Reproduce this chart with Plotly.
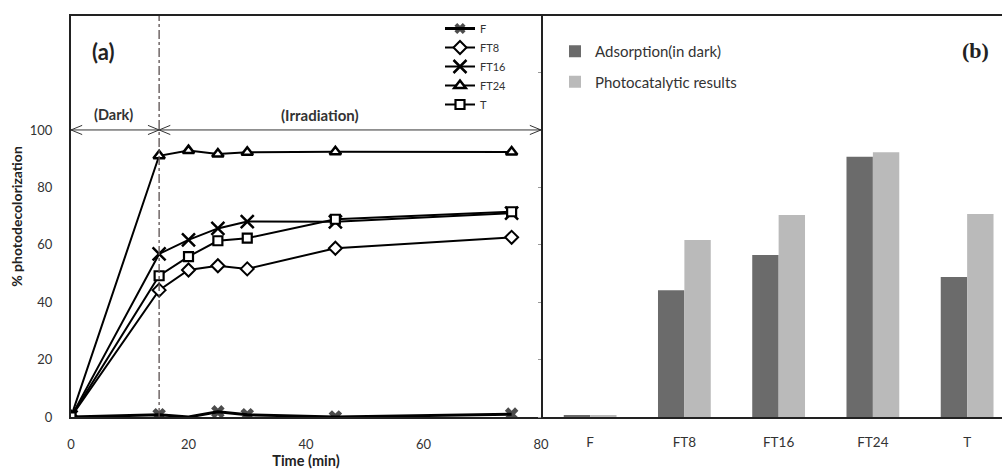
import plotly.graph_objects as go

# ---------------- data ----------------
time_min = [0, 15, 20, 25, 30, 45, 75]
F = [0, 0.8, 0.0, 1.8, 0.8, 0.0, 1.0]
FT8 = [0, 44.2, 51.2, 52.7, 51.6, 58.8, 62.6]
FT16 = [0, 56.8, 61.7, 65.7, 68.1, 68.0, 71.0]
FT24 = [0, 91.0, 92.8, 91.6, 92.2, 92.4, 92.3]
T = [0, 49.2, 55.9, 61.4, 62.3, 68.9, 71.5]

categories = ["F", "FT8", "FT16", "FT24", "T"]
adsorption_dark = [0.5, 44.2, 56.4, 90.7, 48.8]
photocatalytic = [0.4, 61.7, 70.4, 92.2, 70.7]

x_ticks = [0, 20, 40, 60, 80]
y_ticks = [0, 20, 40, 60, 80, 100]
dark_end = 15

FONT = "Lato, Liberation Sans, sans-serif"
TXT = "#333333"

fig = go.Figure()

lw = 2
fig.add_trace(go.Scatter(x=time_min, y=F, name="F", mode="lines+markers",
                         line=dict(color="black", width=3),
                         marker=dict(symbol="x", size=[9, 12, 0, 12, 12, 12, 12], color="black",
                                     line=dict(width=0)),
                         xaxis="x", yaxis="y", legend="legend"))
fig.add_trace(go.Scatter(x=time_min, y=FT8, name="FT8", mode="lines+markers",
                         line=dict(color="black", width=lw),
                         marker=dict(symbol="diamond", size=10, color="white",
                                     line=dict(color="black", width=2)),
                         xaxis="x", yaxis="y", legend="legend"))
fig.add_trace(go.Scatter(x=time_min, y=FT16, name="FT16", mode="lines+markers",
                         line=dict(color="black", width=lw),
                         marker=dict(symbol="x-thin-open", size=13, color="black",
                                     line=dict(color="black", width=2.5)),
                         xaxis="x", yaxis="y", legend="legend"))
fig.add_trace(go.Scatter(x=time_min, y=FT24, name="FT24", mode="lines+markers",
                         line=dict(color="black", width=lw),
                         marker=dict(symbol="triangle-up", size=10, color="white",
                                     line=dict(color="black", width=2.5)),
                         xaxis="x", yaxis="y", legend="legend"))
fig.add_trace(go.Scatter(x=time_min, y=T, name="T", mode="lines+markers",
                         line=dict(color="black", width=lw),
                         marker=dict(symbol="square", size=9, color="white",
                                     line=dict(color="black", width=2.2)),
                         xaxis="x", yaxis="y", legend="legend"))

fig.add_trace(go.Bar(x=categories, y=adsorption_dark, name="Adsorption(in dark)",
                     marker=dict(color="#6b6b6b", line=dict(width=0)),
                     xaxis="x2", yaxis="y2", legend="legend2", legendgroup="a"))
fig.add_trace(go.Bar(x=categories, y=photocatalytic, name="Photocatalytic results",
                     marker=dict(color="#bababa", line=dict(width=0)),
                     xaxis="x2", yaxis="y2", legend="legend2", legendgroup="b"))

YMAX = 139.7

shapes = []
shapes.append(dict(type="line", xref="x", yref="y", x0=dark_end, x1=dark_end, y0=0, y1=YMAX,
                   line=dict(color="#5a5050", width=1.3, dash="dashdot")))
shapes.append(dict(type="line", xref="x", yref="y", x0=0, x1=80, y0=100, y1=100,
                   line=dict(color="#333333", width=1)))
dx, dy = 1.9, 1.6
for xp, d in [(0, 1), (dark_end, -1), (dark_end, 1), (80, -1)]:
    for s in (1, -1):
        shapes.append(dict(type="line", xref="x", yref="y", x0=xp, y0=100,
                           x1=xp + d * dx, y1=100 + s * dy,
                           line=dict(color="#333333", width=1)))

H, T_M, B_M = 469, 16, 52
ph = H - T_M - B_M


def py(v):
    return (H - B_M - v) / ph


annotations = [
    dict(text="<b>(a)</b>", x=103 / 1002, y=py(52), xref="paper", yref="paper", showarrow=False,
         xanchor="center", yanchor="middle",
         font=dict(family=FONT, size=22, color="#222")),
    dict(text="<b>(b)</b>", x=975 / 1002, y=py(50), xref="paper", yref="paper", showarrow=False,
         xanchor="center", yanchor="middle",
         font=dict(family="Liberation Serif, serif", size=22, color="#222")),
    dict(text="<b>(Dark)</b>", x=7.2, y=100, xref="x", yref="y", showarrow=False,
         yanchor="bottom", yshift=5, font=dict(family=FONT, size=14.5, color=TXT)),
    dict(text="<b>(Irradiation)</b>", x=42.3, y=100, xref="x", yref="y", showarrow=False,
         yanchor="bottom", yshift=4, font=dict(family=FONT, size=15, color=TXT)),
]

fig.update_layout(
    width=1002, height=469,
    margin=dict(l=0, r=0, t=T_M, b=B_M),
    paper_bgcolor="white", plot_bgcolor="white",
    font=dict(family=FONT, size=13, color=TXT),
    barmode="group", bargap=0.44, bargroupgap=0,
    shapes=shapes, annotations=annotations,
    xaxis=dict(domain=[71 / 1002, 541 / 1002], range=[0, 80], tickvals=x_ticks,
               showline=True, mirror=True, linecolor="#222", linewidth=2, automargin=False,
               showgrid=False, zeroline=False, ticks="", ticklabelstandoff=14,
               tickfont=dict(size=13, color=TXT),
               title=dict(text="<b>Time (min)</b>", standoff=4,
                          font=dict(size=14.5, color="#222"))),
    yaxis=dict(domain=[0, 1], range=[0, YMAX], tickvals=y_ticks, automargin=False,
               showline=True, mirror=True, linecolor="#222", linewidth=2,
               showgrid=False, zeroline=False, ticks="", ticklabelstandoff=14,
               tickfont=dict(size=13, color=TXT),
               title=dict(text="<b>% photodecolorization</b>", standoff=4,
                          font=dict(size=14, color="#222"))),
    xaxis2=dict(domain=[543 / 1002, 1], range=[-0.5, 4.37], anchor="y2", type="category",
                showline=True, mirror=True, linecolor="#222", linewidth=2, automargin=False,
                showgrid=False, zeroline=False, ticks="", ticklabelstandoff=12,
                tickfont=dict(size=13.5, color=TXT)),
    yaxis2=dict(domain=[0, 1], range=[0, YMAX], anchor="x2", dtick=20, automargin=False,
                showline=True, mirror=False, linecolor="#222", linewidth=2,
                showgrid=False, zeroline=False, ticks="outside", ticklen=3,
                tickcolor="#999", showticklabels=False),
    legend=dict(x=440 / 1002, y=py(14), xanchor="left", yanchor="top",
                bgcolor="rgba(0,0,0,0)", font=dict(size=11, color=TXT),
                itemwidth=30, tracegroupgap=0),
    legend2=dict(x=555 / 1002, y=py(35), xanchor="left", yanchor="top",
                 bgcolor="rgba(0,0,0,0)", font=dict(size=15, color=TXT),
                 itemwidth=30, tracegroupgap=8),
    showlegend=True,
)

fig.write_html("out.html")
